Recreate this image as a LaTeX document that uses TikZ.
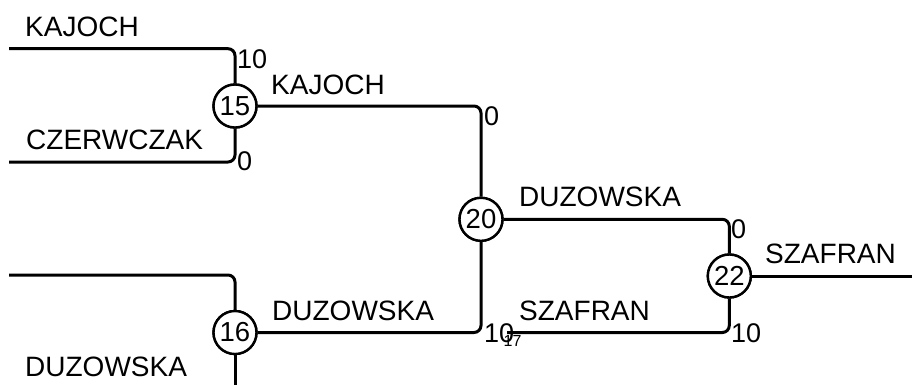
\documentclass[tikz,border=0pt]{standalone}
\usepackage{fontspec}
\setmainfont{Liberation Sans}
\begin{document}
\begin{tikzpicture}[x=1pt,y=-1pt,
  wire/.style={line width=3pt, rounded corners=7pt},
  jn/.style={circle, draw, line width=2.4pt, fill=white, minimum size=43pt, inner sep=0pt, font=\fontsize{27.5}{30}\selectfont},
  lab/.style={anchor=base west, inner sep=0pt, font=\fontsize{28}{32}\selectfont},
  num/.style={anchor=base west, inner sep=0pt, font=\fontsize{27}{30}\selectfont},
  tiny/.style={inner sep=0pt, font=\fontsize{16}{18}\selectfont}]
\useasboundingbox (0,0) rectangle (912,384);
\begin{scope}
\clip (0,0) rectangle (912,384);
% junctions
\node[jn] (n15) at (235,106) {15};
\node[jn] (n16) at (235,332.5) {16};
\node[jn] (n20) at (481,219.3) {20};
\node[jn] (n22) at (729.3,276) {22};
\coordinate (n17) at (507,332.5);
\node[tiny] (l17) at (512.5,340.5) {17};
% free ends
\coordinate (a1) at (9,48.7);
\coordinate (a2) at (9,162);
\coordinate (a3) at (9,275);
\coordinate (bot) at (235,390);
\coordinate (out) at (920,276);
% wires
\draw[wire] (a1) -| (n15);
\draw[wire] (a2) -| (n15);
\draw[wire] (a3) -| (n16);
\draw[wire] (n16) -- (bot);
\draw[wire] (n15) -| (n20);
\draw[wire] (n16) -| (n20);
\draw[wire] (n20) -| (n22);
\draw[wire] (n17) -| (n22);
\draw[wire] (n22) -- (out);
% redraw junctions on top
\node[jn] at (n15) {15};
\node[jn] at (n16) {16};
\node[jn] at (n20) {20};
\node[jn] at (n22) {22};
\end{scope}
% labels
\node[lab] (t1) at (25,36.5) {KAJOCH};
\node[lab] (t2) at (26,149.5) {CZERWCZAK};
\node[lab] (t3) at (25,376) {DUZOWSKA};
\node[lab] (t4) at (271,94) {KAJOCH};
\node[lab] (t5) at (272,320) {DUZOWSKA};
\node[lab] (t6) at (519,206) {DUZOWSKA};
\node[lab] (t7) at (519,320) {SZAFRAN};
\node[lab] (t8) at (765,263) {SZAFRAN};
% numbers
\node[num] (c1) at (237,68.8) {10};
\node[num] (c2) at (237,170.3) {0};
\node[num] (c3) at (484,125.5) {0};
\node[num] (c4) at (484,342) {10};
\node[num] (c5) at (731,238.5) {0};
\node[num] (c6) at (731,342) {10};
\end{tikzpicture}
\end{document}
